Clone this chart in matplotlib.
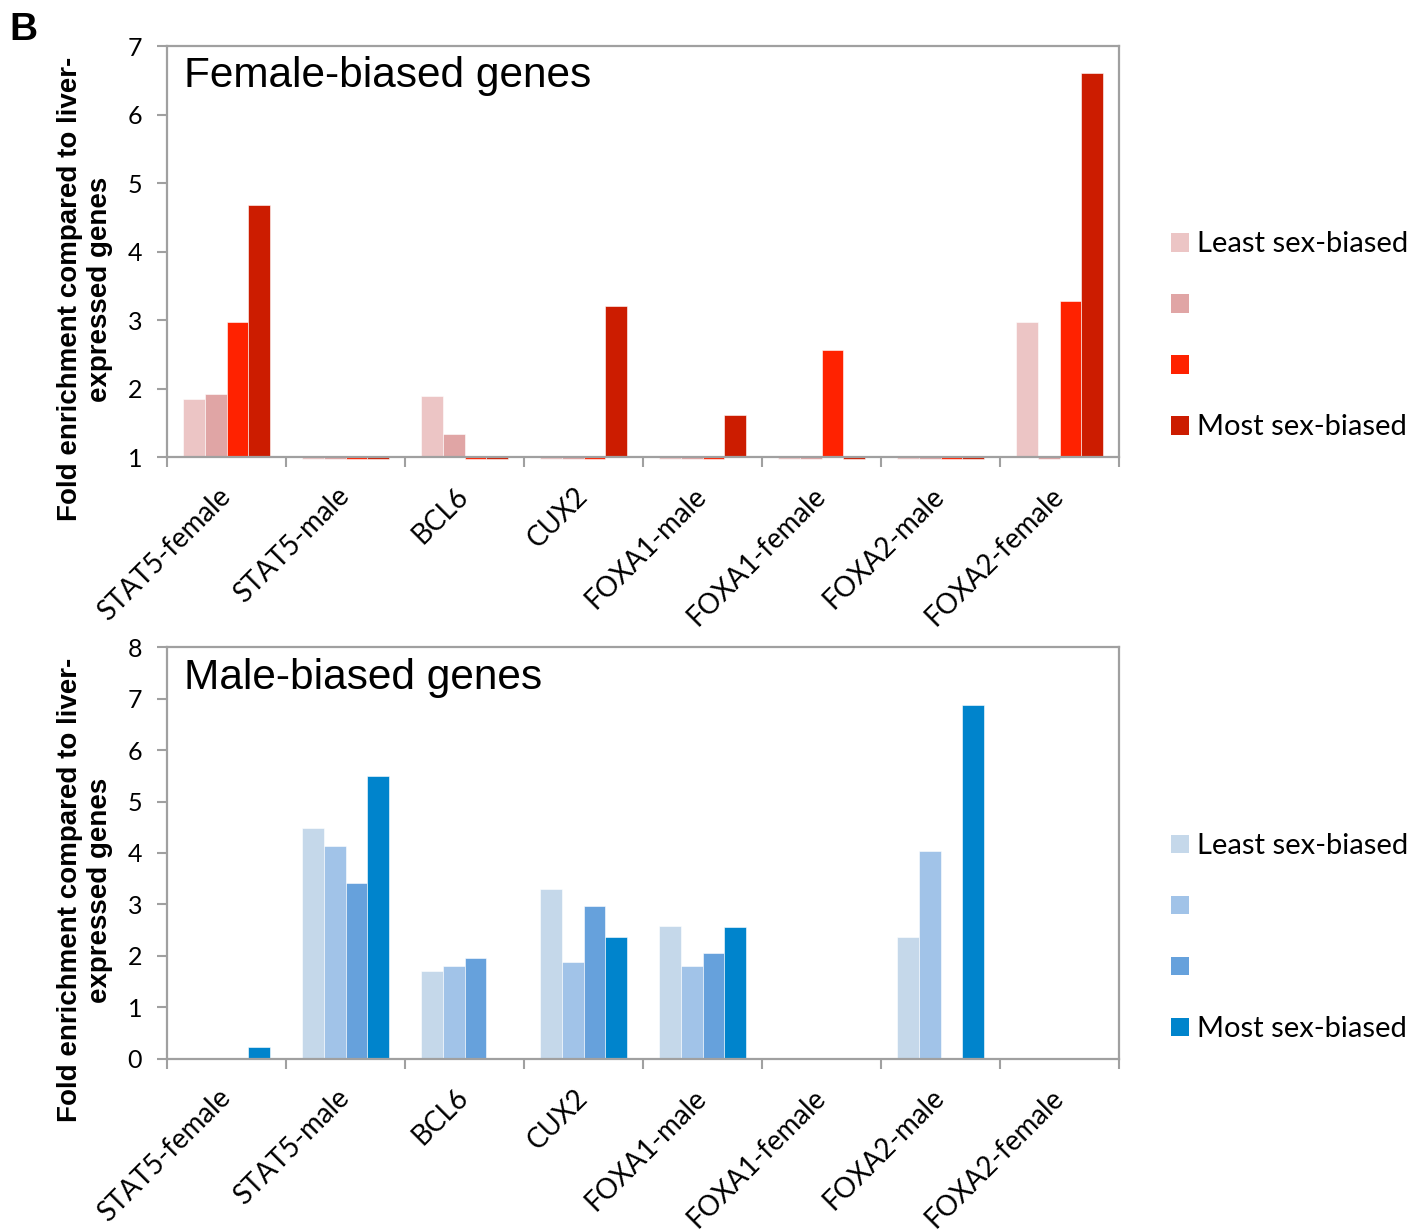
import matplotlib
matplotlib.use("Agg")
import matplotlib.pyplot as plt
from matplotlib.patches import Patch
import numpy as np

categories = ["STAT5-female", "STAT5-male", "BCL6", "CUX2",
              "FOXA1-male", "FOXA1-female", "FOXA2-male", "FOXA2-female"]
series_labels = ["Least sex-biased", " ", " ", "Most sex-biased"]

# Female-biased genes (bars drawn from baseline 1)
female_q1 = [1.85, 0.98, 1.90, 0.98, 0.98, 0.98, 0.98, 2.98]
female_q2 = [1.92, 0.98, 1.34, 0.98, 0.98, 0.98, 0.98, 0.98]
female_q3 = [2.98, 0.98, 0.98, 0.98, 0.98, 2.57, 0.98, 3.28]
female_q4 = [4.68, 0.98, 0.98, 3.20, 1.61, 0.98, 0.98, 6.61]

# Male-biased genes
male_q1 = [0.00, 4.48, 1.71, 3.30, 2.58, 0.00, 2.37, 0.00]
male_q2 = [0.00, 4.14, 1.80, 1.88, 1.80, 0.00, 4.04, 0.00]
male_q3 = [0.00, 3.41, 1.95, 2.96, 2.05, 0.00, 0.00, 0.00]
male_q4 = [0.23, 5.49, 0.00, 2.36, 2.56, 0.00, 6.87, 0.00]

red_colors = ["#ECC5C5", "#E0A5A5", "#FF2200", "#CC1C00"]
blue_colors = ["#C5D8EA", "#A1C3E8", "#66A1DC", "#0084CC"]

fig = plt.figure(figsize=(14.21, 12.32), dpi=100)

W, H = 1421.0, 1232.0
ax_left = 167 / W
ax_width = 952 / W
ax1 = fig.add_axes([ax_left, 1 - 457.3 / H, ax_width, 411.3 / H])
ax2 = fig.add_axes([ax_left, 1 - 1058.7 / H, ax_width, 411.4 / H])

spine_col = "#A0A0A0"
x = np.arange(len(categories))
bw = 0.1825


def draw(ax, series, colors, base, ylim, yticks, title, legend_y):
    handles = []
    for i, (vals, col) in enumerate(zip(series, colors)):
        off = (i - 1.5) * bw
        heights = [v - base for v in vals]
        ax.bar(x + off, heights, width=bw, bottom=base, color=col,
               edgecolor="white", linewidth=0.4, clip_on=False, zorder=2)
        handles.append(Patch(facecolor=col, edgecolor="none"))
    ax.set_xlim(-0.5, len(categories) - 0.5)
    ax.set_ylim(*ylim)
    ax.set_yticks(yticks)
    ax.set_yticklabels([str(t) for t in yticks], fontfamily="Lato", fontsize=18)
    ax.set_xticks(x)
    ax.set_xticklabels(categories, rotation=45, ha="right", va="center",
                       rotation_mode="anchor", fontfamily="Lato", fontsize=20)
    ax.set_xticks(np.arange(-0.5, len(categories)), minor=True)
    ax.tick_params(axis="x", which="major", length=0, pad=25)
    ax.tick_params(axis="x", which="minor", length=7, width=1.5, color=spine_col, direction="out")
    ax.tick_params(axis="y", length=7, width=1.5, color=spine_col, direction="out", pad=11)
    for s in ax.spines.values():
        s.set_color(spine_col)
        s.set_linewidth(1.6)
    ax.text(0.018, 0.975, title, transform=ax.transAxes, ha="left", va="top",
            fontfamily="Liberation Sans", fontsize=30.5)
    ax.legend(handles, series_labels, loc="center left",
              bbox_to_anchor=(1.0546, legend_y), frameon=False,
              prop={"family": "Lato", "size": 21},
              handlelength=0.62, handleheight=0.62, handletextpad=0.27,
              labelspacing=1.2, borderpad=0, borderaxespad=0)


draw(ax1, [female_q1, female_q2, female_q3, female_q4], red_colors, 1,
     (1, 7), [1, 2, 3, 4, 5, 6, 7], "Female-biased genes", 0.295)
draw(ax2, [male_q1, male_q2, male_q3, male_q4], blue_colors, 0,
     (0, 8), [0, 1, 2, 3, 4, 5, 6, 7, 8], "Male-biased genes", 0.294)

ylab = "Fold enrichment compared to liver-\nexpressed genes"
for yc in (1 - 289 / H, 1 - 890 / H):
    fig.text(85 / W, yc, ylab, rotation=90, ha="center", va="center",
             multialignment="center", fontfamily="Liberation Sans",
             fontweight="bold", fontsize=20)

fig.text(9 / W, 1 - 40 / H, "B", ha="left", va="baseline",
         fontfamily="Liberation Sans", fontweight="bold", fontsize=28)

fig.savefig("out.png", dpi=100)
